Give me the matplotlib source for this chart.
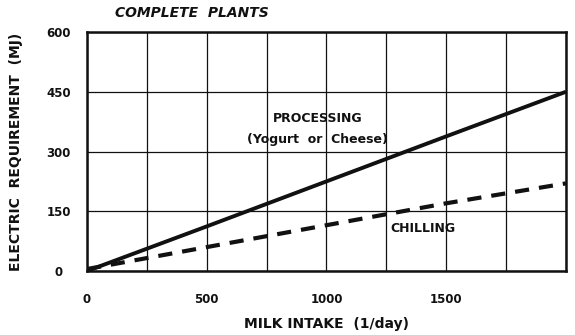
import matplotlib.pyplot as plt

# Data
milk = [0, 500, 1000, 1500, 2000]
processing = [0, 112, 225, 338, 450]
chilling = [5, 60, 115, 170, 220]

x_grid = [0, 250, 500, 750, 1000, 1250, 1500, 1750, 2000]
x_labels = ['0', '', '500', '', '1000', '', '1500', '', '']
y_grid = [0, 150, 300, 450, 600]
y_labels = ['0', '150', '300', '450', '600']

plt.rcParams['font.family'] = ['DejaVu Sans']
plt.rcParams['font.weight'] = 'bold'
plt.rcParams['axes.labelweight'] = 'bold'
ink = '#111111'

fig = plt.figure(figsize=(5.75, 3.35), dpi=100)
ax = fig.add_axes([0.1513, 0.191, 0.833, 0.7135])

ax.plot(milk, processing, color=ink, lw=2.8, solid_capstyle='butt')
ax.plot(milk, chilling, color=ink, lw=3.0, dashes=(3.4, 2.4))

ax.set_xlim(0, 2000)
ax.set_ylim(0, 600)
ax.set_xticks(x_grid)
ax.set_xticklabels(x_labels)
ax.set_yticks(y_grid)
ax.set_yticklabels(y_labels, ha='center')
ax.tick_params(length=0, labelsize=8.5, colors=ink)
ax.tick_params(axis='x', pad=16)
ax.tick_params(axis='y', pad=20.5)
ax.grid(True, color=ink, lw=0.9)
ax.set_axisbelow(True)
for s in ax.spines.values():
    s.set_linewidth(1.8)
    s.set_color(ink)

ax.set_xlabel('MILK INTAKE  (1/day)', fontsize=10, color=ink, labelpad=8)
ax.set_ylabel('ELECTRIC  REQUIREMENT  (MJ)', fontsize=10, color=ink, labelpad=17)

fig.text(0.2, 0.962, 'COMPLETE  PLANTS', fontsize=10, style='italic', color=ink,
         ha='left', va='center')

ax.text(962, 382, 'PROCESSING', fontsize=9, color=ink, ha='center', va='center')
ax.text(962, 330, '(Yogurt  or  Cheese)', fontsize=9, color=ink, ha='center', va='center')
ax.text(1267, 107, 'CHILLING', fontsize=9, color=ink, ha='left', va='center')

fig.savefig('out.png', dpi=100)
